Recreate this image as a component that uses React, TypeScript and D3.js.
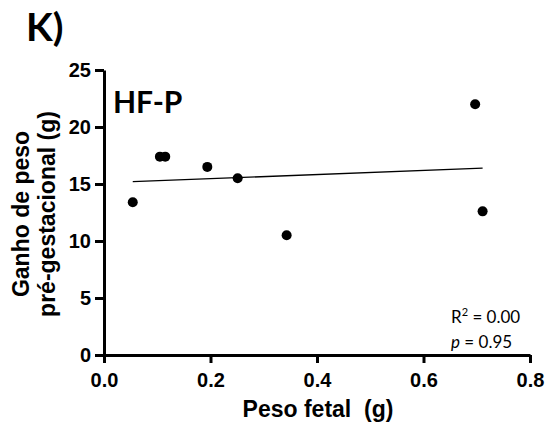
import React, { useEffect, useRef } from 'react';
import * as d3 from 'd3';

// fetal weight (g) vs pre-gestational weight gain (g), HF-P group
const pesoFetal = [0.054, 0.105, 0.115, 0.194, 0.251, 0.343, 0.697, 0.711];
const ganhoPeso = [13.4, 17.4, 17.4, 16.5, 15.5, 10.5, 22.0, 12.6];
const xTicks = [0, 0.2, 0.4, 0.6, 0.8];
const yTicks = [0, 5, 10, 15, 20, 25];

const W = 547;
const H = 428;

function App() {
  const svgRef = useRef<SVGSVGElement>(null);

  useEffect(() => {
    const svg = d3.select(svgRef.current);
    svg.selectAll('*').remove();

    const x = d3.scaleLinear().domain([0, 0.8]).range([104, 530]);
    const y = d3.scaleLinear().domain([0, 25]).range([355, 70]);

    const data = pesoFetal.map((v, i) => ({ x: v, y: ganhoPeso[i] }));

    // linear regression
    const mx = d3.mean(data, d => d.x)!;
    const my = d3.mean(data, d => d.y)!;
    const sxy = d3.sum(data, d => (d.x - mx) * (d.y - my));
    const sxx = d3.sum(data, d => (d.x - mx) ** 2);
    const slope = sxy / sxx;
    const icpt = my - slope * mx;
    const [x0, x1] = d3.extent(data, d => d.x) as [number, number];

    svg.append('text')
      .attr('x', 26).attr('y', 41)
      .style('font-family', 'Lato, "Open Sans", sans-serif')
      .style('font-weight', 'bold')
      .style('font-size', '39px')
      .text('K)');

    const arial = '"Liberation Sans", Arial, sans-serif';

    const xAxis = svg.append('g')
      .attr('transform', `translate(0,${y(0)})`)
      .call(d3.axisBottom(x).tickValues(xTicks).tickFormat(d3.format('.1f')).tickSize(8).tickSizeOuter(0));
    const yAxis = svg.append('g')
      .attr('transform', `translate(${x(0)},0)`)
      .call(d3.axisLeft(y).tickValues(yTicks).tickSize(9).tickSizeOuter(0));

    [xAxis, yAxis].forEach(a => {
      a.select('.domain').attr('stroke', '#000').attr('stroke-width', 3);
      a.selectAll('.tick line').attr('stroke', '#000').attr('stroke-width', 3);
      a.selectAll('.tick text')
        .attr('fill', '#000')
        .style('font-family', arial)
        .style('font-weight', 'bold')
        .style('font-size', '20px');
    });
    xAxis.selectAll('.tick text').attr('y', 18);
    yAxis.selectAll('.tick text').attr('x', -13);

    svg.append('text')
      .attr('x', 318).attr('y', 417)
      .attr('text-anchor', 'middle')
      .style('font-family', arial)
      .style('font-weight', 'bold')
      .style('font-size', '23px')
      .style('white-space', 'pre')
      .text('Peso fetal  (g)');

    const yt = svg.append('text')
      .attr('transform', 'translate(0,214) rotate(-90)')
      .attr('text-anchor', 'middle')
      .style('font-family', arial)
      .style('font-weight', 'bold')
      .style('font-size', '23px');
    yt.append('tspan').attr('x', 0).attr('y', 29).text('Ganho de peso');
    yt.append('tspan').attr('x', 0).attr('y', 55).text('pré-gestacional (g)');

    svg.append('text')
      .attr('x', 113).attr('y', 113)
      .style('font-family', 'Lato, "Open Sans", sans-serif')
      .style('font-weight', 'bold')
      .style('font-size', '30px')
      .text('HF-P');

    svg.append('line')
      .attr('x1', x(x0)).attr('y1', y(icpt + slope * x0))
      .attr('x2', x(x1)).attr('y2', y(icpt + slope * x1))
      .attr('stroke', '#000').attr('stroke-width', 1.3);

    svg.append('g').selectAll('circle')
      .data(data)
      .enter().append('circle')
      .attr('cx', d => x(d.x))
      .attr('cy', d => y(d.y))
      .attr('r', 5)
      .attr('fill', '#000');

    const stat = svg.append('g')
      .style('font-family', 'Lato, "Open Sans", sans-serif')
      .style('font-size', '17px');
    const r2 = stat.append('text').attr('x', 451).attr('y', 323);
    r2.append('tspan').text('R');
    r2.append('tspan').attr('dy', -7).style('font-size', '11px').text('2');
    r2.append('tspan').attr('dy', 7).text(' = 0.00');
    const pt = stat.append('text').attr('x', 451).attr('y', 348);
    pt.append('tspan').style('font-style', 'italic').text('p');
    pt.append('tspan').text(' = 0.95');
  }, []);

  return (
    <svg
      ref={svgRef}
      width={W}
      height={H}
      style={{ position: 'absolute', left: 0, top: 0, background: '#fff' }}
    />
  );
}

export default App;
